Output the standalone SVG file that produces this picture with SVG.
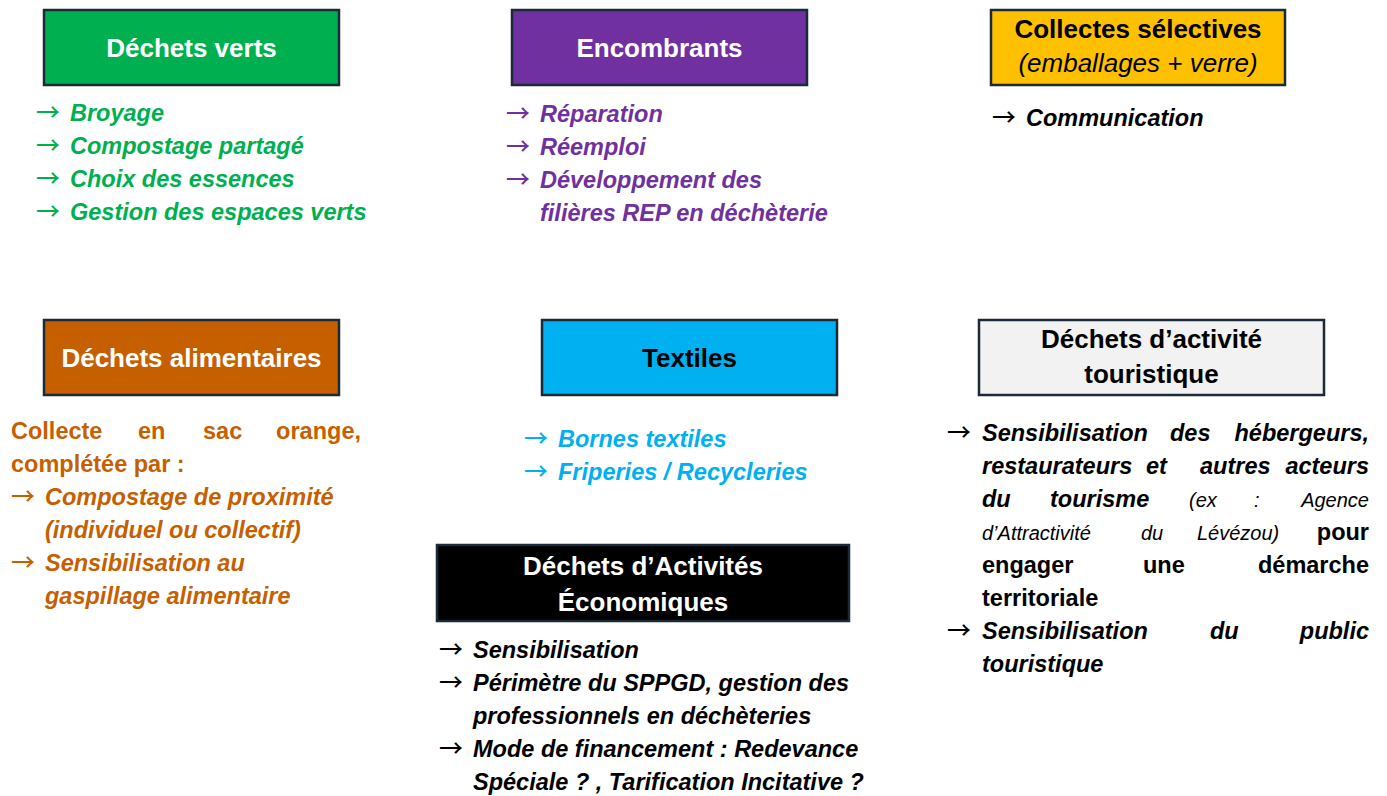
<svg xmlns="http://www.w3.org/2000/svg" width="1387" height="796" viewBox="0 0 1387 796">
<style>
.box{stroke:#1B2A38;stroke-width:2.5}
.t{font-family:"Liberation Sans",Arial,sans-serif;font-weight:bold;font-size:26px;text-anchor:middle}
.l{font-family:"Liberation Sans",Arial,sans-serif;font-weight:bold;font-style:italic;font-size:23.5px}
.n{font-style:normal}
.r{font-weight:normal;font-size:20px}
.l .a{font-family:"Noto Sans CJK SC","DejaVu Sans",sans-serif;font-weight:500;font-style:normal;font-size:24px}
.e{text-anchor:end}
</style>
<rect width="1387" height="796" fill="#fff"/>
<g id="connectors"></g>

<g id="dechets-verts">
<rect class="box" x="44" y="10" width="295" height="75" fill="#00B050"/>
<text class="t" x="191.5" y="57" fill="#fff">Déchets verts</text>
<g class="l" fill="#00B050">
<text x="36" y="121"><tspan class="a">→</tspan><tspan x="70">Broyage</tspan></text>
<text x="36" y="154"><tspan class="a">→</tspan><tspan x="70">Compostage partagé</tspan></text>
<text x="36" y="187"><tspan class="a">→</tspan><tspan x="70">Choix des essences</tspan></text>
<text x="36" y="220"><tspan class="a">→</tspan><tspan x="70">Gestion des espaces verts</tspan></text>
</g>
</g>

<g id="encombrants">
<rect class="box" x="512" y="10" width="295" height="75" fill="#7030A0"/>
<text class="t" x="659.5" y="57" fill="#fff">Encombrants</text>
<g class="l" fill="#7030A0">
<text x="506" y="122"><tspan class="a">→</tspan><tspan x="540">Réparation</tspan></text>
<text x="506" y="155"><tspan class="a">→</tspan><tspan x="540">Réemploi</tspan></text>
<text x="506" y="188"><tspan class="a">→</tspan><tspan x="540">Développement des</tspan></text>
<text x="540" y="221">filières REP en déchèterie</text>
</g>
</g>

<g id="collectes-selectives">
<rect class="box" x="991" y="10" width="294" height="75" fill="#FFC000"/>
<text class="t" x="1138" y="38" fill="#000">Collectes sélectives</text>
<text class="t" x="1138" y="72" fill="#000" style="font-weight:normal;font-style:italic">(emballages + verre)</text>
<g class="l" fill="#000">
<text x="992" y="126"><tspan class="a">→</tspan><tspan x="1026">Communication</tspan></text>
</g>
</g>

<g id="dechets-alimentaires">
<rect class="box" x="44" y="320" width="295" height="75" fill="#C65F00"/>
<text class="t" x="191.5" y="367" fill="#fff">Déchets alimentaires</text>
<g class="l" fill="#C65F00">
<text y="439" class="n"><tspan x="11">Collecte</tspan><tspan x="138">en</tspan><tspan x="203">sac</tspan><tspan x="361" class="e">orange,</tspan></text>
<text x="11" y="472" class="n">complétée par :</text>
<text x="11" y="505"><tspan class="a">→</tspan><tspan x="45">Compostage de proximité</tspan></text>
<text x="45" y="538">(individuel ou collectif)</text>
<text x="11" y="571"><tspan class="a">→</tspan><tspan x="45">Sensibilisation au</tspan></text>
<text x="45" y="604">gaspillage alimentaire</text>
</g>
</g>

<g id="textiles">
<rect class="box" x="542" y="320" width="295" height="75" fill="#00B0F0"/>
<text class="t" x="689.5" y="367" fill="#000">Textiles</text>
<g class="l" fill="#00B0F0">
<text x="524" y="447"><tspan class="a">→</tspan><tspan x="558">Bornes textiles</tspan></text>
<text x="524" y="480"><tspan class="a">→</tspan><tspan x="558">Friperies / Recycleries</tspan></text>
</g>
</g>

<g id="dechets-activite-touristique">
<rect class="box" x="979" y="320" width="345" height="75" fill="#F2F2F2"/>
<text class="t" x="1151.5" y="348" fill="#000">Déchets d’activité</text>
<text class="t" x="1151.5" y="383" fill="#000">touristique</text>
<g class="l" fill="#000">
<text y="441"><tspan x="947" class="a">→</tspan><tspan x="982">Sensibilisation</tspan><tspan x="1170">des</tspan><tspan x="1369" class="e">hébergeurs,</tspan></text>
<text y="474"><tspan x="982">restaurateurs</tspan><tspan x="1146">et</tspan><tspan x="1200">autres</tspan><tspan x="1369" class="e">acteurs</tspan></text>
<text y="507"><tspan x="982">du</tspan><tspan x="1050">tourisme</tspan><tspan x="1189" class="r">(ex</tspan><tspan x="1254" class="r">:</tspan><tspan x="1369" class="r e">Agence</tspan></text>
<text y="540"><tspan x="982" class="r">d’Attractivité</tspan><tspan x="1141" class="r">du</tspan><tspan x="1197" class="r">Lévézou)</tspan><tspan x="1369" class="n e">pour</tspan></text>
<text y="573" class="n"><tspan x="982">engager</tspan><tspan x="1143">une</tspan><tspan x="1369" class="e">démarche</tspan></text>
<text y="606" class="n"><tspan x="982">territoriale</tspan></text>
<text y="639"><tspan x="947" class="a">→</tspan><tspan x="982">Sensibilisation</tspan><tspan x="1210">du</tspan><tspan x="1369" class="e">public</tspan></text>
<text y="672"><tspan x="982">touristique</tspan></text>
</g>
</g>

<g id="dechets-activites-economiques">
<rect class="box" x="437" y="545" width="412" height="76" fill="#000"/>
<text class="t" x="643" y="575" fill="#fff">Déchets d’Activités</text>
<text class="t" x="643" y="611" fill="#fff">Économiques</text>
<g class="l" fill="#000">
<text x="439" y="658"><tspan class="a">→</tspan><tspan x="473">Sensibilisation</tspan></text>
<text x="439" y="691"><tspan class="a">→</tspan><tspan x="473">Périmètre du SPPGD, gestion des</tspan></text>
<text x="473" y="724">professionnels en déchèteries</text>
<text x="439" y="757"><tspan class="a">→</tspan><tspan x="473">Mode de financement : Redevance</tspan></text>
<text x="473" y="790">Spéciale ? , Tarification Incitative ?</text>
</g>
</g>
</svg>
